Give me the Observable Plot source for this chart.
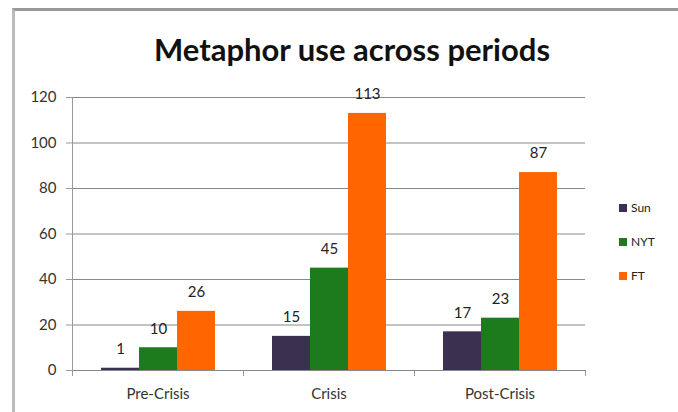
<!DOCTYPE html>
<html>
<head>
<meta charset="utf-8">
<script src="https://cdn.jsdelivr.net/npm/d3@7"></script>
<script src="https://cdn.jsdelivr.net/npm/@observablehq/plot@0.6"></script>
<style>
  html, body { margin: 0; padding: 0; background: #fff; }
  #wrap { position: relative; width: 678px; height: 412px; overflow: hidden; font-family: Lato, "Open Sans", sans-serif; }
  #border { position: absolute; left: 12px; top: 8px; width: 700px; height: 420px; border-left: 3px solid #bbb; border-top: 3px solid #999; }
  #title { position: absolute; left: 0; width: 704px; top: 30px; text-align: center; font-size: 31px; font-weight: bold; color: #111; }
  #chart { position: absolute; left: 0; top: 0; }
  #legend { position: absolute; left: 619px; top: 201px; font-size: 12px; color: #222; }
  .li { position: absolute; left: 0; white-space: nowrap; line-height: 14px; }
  .sw { display: inline-block; width: 8px; height: 8px; margin-right: 4px; vertical-align: 0px; }
</style>
</head>
<body>
<div id="wrap">
  <div id="border"></div>
  <div id="chart"></div>
  <div id="title">Metaphor use across periods</div>
  <div id="legend"></div>
</div>
<script>
const periods = ["Pre-Crisis", "Crisis", "Post-Crisis"];
const series = ["Sun", "NYT", "FT"];
const colors = ["#3c3050", "#1d7a1d", "#ff6600"];
const sunValues = [1, 15, 17];
const nytValues = [10, 45, 23];
const ftValues = [26, 113, 87];
const yTicks = [0, 20, 40, 60, 80, 100, 120];

const valuesBySeries = [sunValues, nytValues, ftValues];
const data = [];
periods.forEach((p, i) => {
  series.forEach((s, j) => {
    data.push({period: p, series: s, value: valuesBySeries[j][i]});
  });
});

const plot = Plot.plot({
  width: 678,
  height: 412,
  marginLeft: 72,
  marginRight: 93,
  marginTop: 97,
  marginBottom: 42,
  style: {fontFamily: "Lato, 'Open Sans', sans-serif", fontSize: "15px", color: "#333", background: "transparent"},
  fx: {domain: periods, padding: 0, label: null},
  x: {domain: series, paddingInner: 0, paddingOuter: 0.75, axis: null},
  y: {domain: [0, 120], label: null},
  color: {domain: series, range: colors},
  marks: [
    Plot.ruleY(yTicks, {stroke: "#888", strokeWidth: 1, strokeOpacity: 1}),
    Plot.frame({anchor: "left", facetAnchor: "left", stroke: "#999"}),
    Plot.frame({anchor: "left", stroke: "#999", insetTop: 273, insetBottom: -5}),
    Plot.frame({anchor: "right", stroke: "#999", insetTop: 273, insetBottom: -5}),
    Plot.axisY({ticks: yTicks, tickSize: 6, tickPadding: 10, stroke: "#999", fill: "#333", fontSize: 15, label: null}),
    Plot.axisFx({anchor: "bottom", tickSize: 0, tickPadding: 18, fill: "#333", fontSize: 15, label: null}),
    Plot.barY(data, {fx: "period", x: "series", y: "value", fill: "series"}),
    Plot.text(data, {fx: "period", x: "series", y: "value", text: d => String(d.value), dy: -19, fill: "#222", fontSize: 15})
  ]
});
document.getElementById("chart").appendChild(plot);

const legend = document.getElementById("legend");
series.forEach((s, i) => {
  const el = document.createElement("div");
  el.className = "li";
  el.style.top = (i * 34) + "px";
  el.innerHTML = `<span class="sw" style="background:${colors[i]}"></span>${s}`;
  legend.appendChild(el);
});
</script>
</body>
</html>
